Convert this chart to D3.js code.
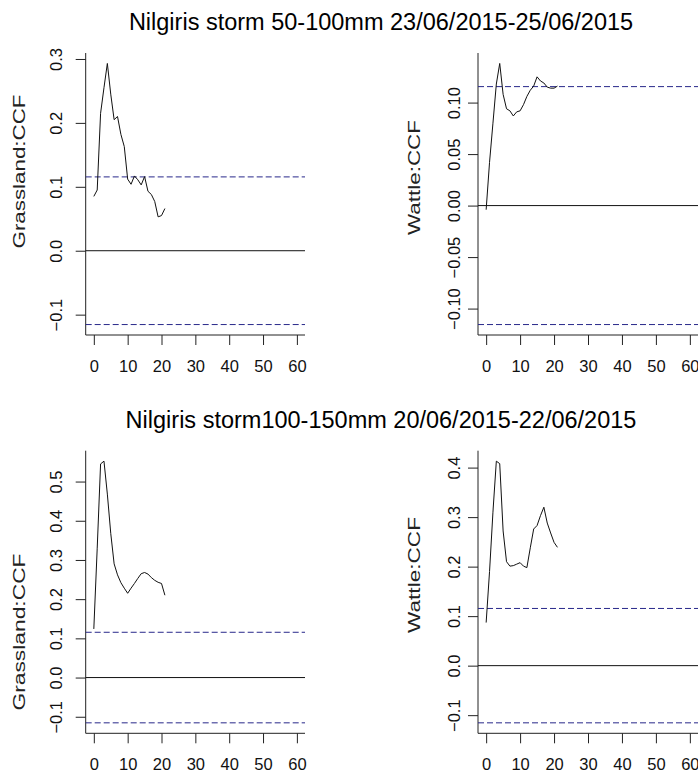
<!DOCTYPE html>
<html>
<head>
<meta charset="utf-8">
<script src="https://cdnjs.cloudflare.com/ajax/libs/d3/7.8.5/d3.min.js"></script>
<style>
  body { margin: 0; background: #fff; }
  svg { display: block; font-family: "Liberation Sans", Arial, sans-serif; }
</style>
</head>
<body>
<svg id="chart" width="698" height="773"></svg>
<script>
// lags shared by all four cross-correlation plots
const lags = [0, 1, 2, 3, 4, 5, 6, 7, 8, 9, 10, 11, 12, 13, 14, 15, 16, 17, 18, 19, 20, 21];

// storm 50-100mm, 23/06/2015-25/06/2015
const grassland50 = [0.085, 0.095, 0.215, 0.255, 0.293, 0.245, 0.205, 0.210, 0.182, 0.163, 0.112, 0.104,
                     0.117, 0.111, 0.103, 0.116, 0.093, 0.088, 0.077, 0.053, 0.055, 0.066];
const wattle50 = [-0.004, 0.042, 0.080, 0.118, 0.138, 0.108, 0.094, 0.092, 0.087, 0.091, 0.092, 0.098,
                  0.106, 0.112, 0.116, 0.125, 0.121, 0.119, 0.115, 0.114, 0.114, 0.116];

// storm 100-150mm, 20/06/2015-22/06/2015
const grassland100 = [0.124, 0.330, 0.545, 0.552, 0.468, 0.368, 0.290, 0.262, 0.242, 0.228, 0.215, 0.228,
                      0.240, 0.253, 0.265, 0.268, 0.264, 0.255, 0.248, 0.243, 0.240, 0.210];
const wattle100 = [0.087, 0.190, 0.310, 0.413, 0.408, 0.272, 0.210, 0.201, 0.202, 0.205, 0.208, 0.201,
                   0.198, 0.238, 0.276, 0.283, 0.303, 0.320, 0.288, 0.268, 0.249, 0.239];

// 95% confidence bound drawn as dashed lines
const ci = 0.1155;

const xTicks = [0, 10, 20, 30, 40, 50, 60];
const yTicksGrass50 = [-0.1, 0, 0.1, 0.2, 0.3];
const yTicksWattle50 = [-0.10, -0.05, 0, 0.05, 0.10];
const yTicksGrass100 = [-0.1, 0, 0.1, 0.2, 0.3, 0.4, 0.5];
const yTicksWattle100 = [-0.1, 0, 0.1, 0.2, 0.3, 0.4];

const titles = ["Nilgiris storm 50-100mm 23/06/2015-25/06/2015",
                "Nilgiris storm100-150mm 20/06/2015-22/06/2015"];

const svg = d3.select("#chart");

// titles
svg.selectAll(".title")
  .data(titles)
  .enter()
  .append("text")
  .attr("class", "title")
  .attr("x", 381)
  .attr("y", (d, i) => i === 0 ? 30 : 428)
  .attr("text-anchor", "middle")
  .style("font-size", "23.5px")
  .text(d => d);

const panels = [
  { values: grassland50, yTicks: yTicksGrass50, dec: 1, label: "Grassland:CCF",
    left: 85.7, right: 305, top: 53, bottom: 335, tickLab: 62, ylabX: 25, ylabY: 171.5, ylabLen: 154 },
  { values: wattle50, yTicks: yTicksWattle50, dec: 2, label: "Wattle:CCF",
    left: 478, right: 698, top: 53, bottom: 335, tickLab: 460, ylabX: 420, ylabY: 177.5, ylabLen: 115 },
  { values: grassland100, yTicks: yTicksGrass100, dec: 1, label: "Grassland:CCF",
    left: 85.7, right: 305, top: 450.7, bottom: 733.3, tickLab: 62, ylabX: 25, ylabY: 632, ylabLen: 157 },
  { values: wattle100, yTicks: yTicksWattle100, dec: 1, label: "Wattle:CCF",
    left: 478, right: 698, top: 450.7, bottom: 733.3, tickLab: 460, ylabX: 420, ylabY: 575, ylabLen: 116 }
];

panels.forEach(p => {
  const g = svg.append("g");

  // R style: 4% padding around xlim [0, 60] and around the range of data and bounds
  const xScale = d3.scaleLinear().domain([-2.4, 62.4]).range([p.left, p.right]);
  const lo = Math.min(-ci, d3.min(p.values));
  const hi = Math.max(ci, d3.max(p.values));
  const pad = (hi - lo) * 0.04;
  const yScale = d3.scaleLinear().domain([lo - pad, hi + pad]).range([p.bottom, p.top]);

  // x axis
  const xAxis = d3.axisBottom(xScale).tickValues(xTicks).tickSize(10).tickSizeOuter(0);
  const gx = g.append("g")
    .attr("transform", `translate(0,${p.bottom})`)
    .call(xAxis);
  gx.select(".domain").remove();
  gx.selectAll("line").attr("stroke", "#222");
  gx.selectAll("text")
    .attr("dy", null)
    .attr("y", 36.5)
    .style("font-size", "16.5px")
    .attr("fill", "#111");

  // y axis with labels turned parallel to the axis
  const yAxis = d3.axisLeft(yScale).tickValues(p.yTicks).tickSize(10).tickSizeOuter(0)
    .tickFormat(d3.format(`.${p.dec}f`));
  const gy = g.append("g")
    .attr("transform", `translate(${p.left},0)`)
    .call(yAxis);
  gy.select(".domain").remove();
  gy.selectAll("line").attr("stroke", "#222");
  gy.selectAll("text")
    .attr("x", 0).attr("dy", null)
    .attr("y", -(p.left - p.tickLab))
    .attr("text-anchor", "middle")
    .attr("transform", "rotate(-90)")
    .style("font-size", "16.5px")
    .attr("fill", "#111");

  // L-shaped frame
  g.append("path")
    .attr("d", `M${p.left},${p.top}V${p.bottom}H${p.right}`)
    .attr("fill", "none")
    .attr("stroke", "#222")
    .attr("stroke-width", 1);

  // zero line
  g.append("line")
    .attr("x1", p.left).attr("x2", p.right)
    .attr("y1", yScale(0)).attr("y2", yScale(0))
    .attr("stroke", "#111");

  // confidence bounds
  g.selectAll(".ci")
    .data([ci, -ci])
    .enter()
    .append("line")
    .attr("class", "ci")
    .attr("x1", p.left).attr("x2", p.right)
    .attr("y1", d => yScale(d)).attr("y2", d => yScale(d))
    .attr("stroke", "#28288a")
    .attr("stroke-dasharray", "6,3");

  // ccf curve
  const line = d3.line()
    .x((d, i) => xScale(lags[i]))
    .y(d => yScale(d));
  g.append("path")
    .datum(p.values)
    .attr("d", line)
    .attr("fill", "none")
    .attr("stroke", "#111")
    .attr("stroke-width", 1);

  // y axis title
  g.append("text")
    .attr("transform", `translate(${p.ylabX},${p.ylabY}) rotate(-90)`)
    .attr("text-anchor", "middle")
    .attr("textLength", p.ylabLen)
    .attr("lengthAdjust", "spacingAndGlyphs")
    .style("font-size", "16px")
    .attr("fill", "#222")
    .text(p.label);
});
</script>
</body>
</html>
